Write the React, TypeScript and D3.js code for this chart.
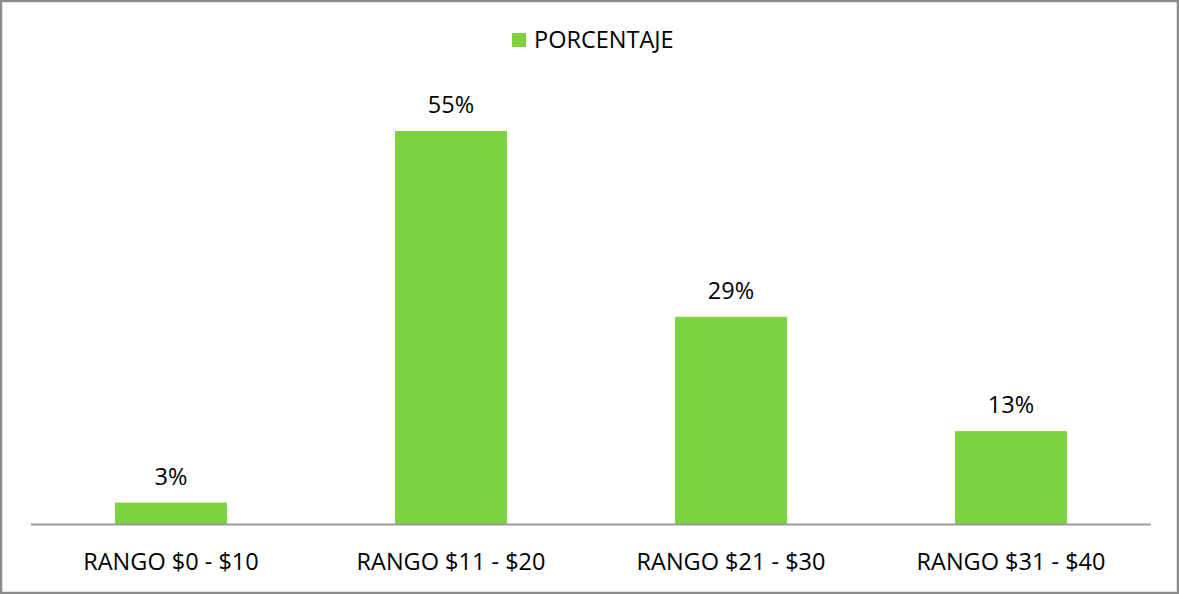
import React from "react";
import * as d3 from "d3";

const categories = ["RANGO $0 - $10", "RANGO $11 - $20", "RANGO $21 - $30", "RANGO $31 - $40"];
const values = [3, 55, 29, 13];
const seriesName = "PORCENTAJE";

const W = 1179;
const H = 594;
const GREEN = "#7ED13F";
const FONT = "'Open Sans', Lato, sans-serif";
const FS = 23.5;

export default function App() {
  const x = d3.scaleBand<string>().domain(categories).range([31, 1151]).paddingInner(0.6).paddingOuter(0.3);
  const y = d3.scaleLinear().domain([0, 60]).range([524, 524 - 60 * 7.1455]);

  return (
    <svg width={W} height={H} style={{ position: "absolute", left: 0, top: 0 }}>
      <rect x={1} y={1} width={W - 2} height={H - 2} fill="#fff" stroke="#8c8c8c" strokeWidth={2.5} />
      <g>
        <rect x={512} y={33} width={14} height={14} fill={GREEN} />
        <text x={534} y={48} fontFamily={FONT} fontSize={FS} fill="#000">{seriesName}</text>
      </g>
      {categories.map((c, i) => (
        <g key={c}>
          <rect x={x(c)!} y={y(values[i])} width={x.bandwidth()} height={y(0) - y(values[i])} fill={GREEN} />
          <text x={x(c)! + x.bandwidth() / 2} y={y(values[i]) - 18} textAnchor="middle" fontFamily={FONT} fontSize={FS} fill="#000">
            {values[i]}%
          </text>
          <text x={x(c)! + x.bandwidth() / 2} y={570} textAnchor="middle" fontFamily={FONT} fontSize={FS} fill="#000">
            {c}
          </text>
        </g>
      ))}
      <line x1={31} x2={1151} y1={524.5} y2={524.5} stroke="#999" strokeWidth={2} />
    </svg>
  );
}
